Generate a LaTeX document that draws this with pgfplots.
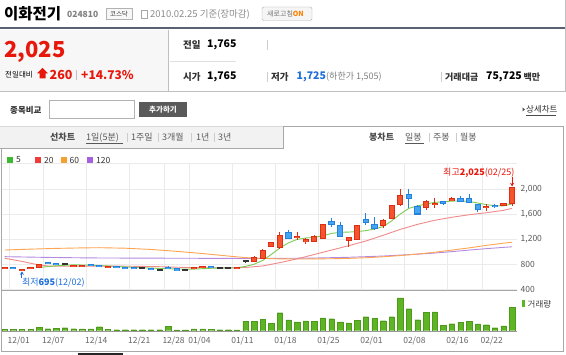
\documentclass[border=0pt]{standalone}
\usepackage{fontspec}
\setmainfont{Noto Sans CJK KR}
\usepackage{pgfplots}
\pgfplotsset{compat=1.18}
\usepackage{pgfplotstable}
\usetikzlibrary{arrows.meta}

\definecolor{upfill}{HTML}{F4532C}
\definecolor{upedge}{HTML}{DC2E14}
\definecolor{dnfill}{HTML}{45A5F2}
\definecolor{dnedge}{HTML}{2582DC}
\definecolor{ma5}{HTML}{7CCB55}
\definecolor{ma20}{HTML}{F08A8A}
\definecolor{ma60}{HTML}{FFA552}
\definecolor{ma120}{HTML}{B48AE2}
\definecolor{lg5}{HTML}{3DB830}
\definecolor{lg20}{HTML}{EE3B3B}
\definecolor{lg60}{HTML}{F5A030}
\definecolor{lg120}{HTML}{A262DE}
\definecolor{volg}{HTML}{5DB523}
\definecolor{gridc}{HTML}{EBEBEB}
\definecolor{kred}{HTML}{E8170C}
\definecolor{kblue}{HTML}{1E6EDC}
\definecolor{frame}{HTML}{A8A8A8}
\definecolor{hdrline}{HTML}{5B6170}
\definecolor{btngrey}{HTML}{5A5A5A}

\newcommand\fs[1]{\fontsize{#1}{#1}\selectfont}

% candles: i open high low close
\pgfplotstableread{
i o h l c
0 735 750 728 748
2 700 725 695 722
3 735 752 728 748
4 745 795 740 790
8 768 792 762 786
9 762 786 755 780
12 752 770 748 766
22 735 752 728 748
23 740 762 735 756
27 735 750 728 748
29 845 935 835 910
30 890 1040 880 1015
31 1080 1160 1070 1150
32 1065 1320 1045 1260
34 1222 1320 1190 1245
35 1160 1225 1120 1192
36 1165 1260 1160 1245
37 1215 1440 1210 1425
40 1185 1240 1075 1220
41 1190 1420 1185 1410
44 1410 1520 1380 1500
45 1530 1745 1520 1740
46 1745 2000 1735 1890
49 1710 1820 1670 1805
50 1745 1860 1690 1775
52 1810 1870 1800 1850
56 1700 1760 1650 1722
58 1742 1775 1730 1765
59 1765 2025 1725 2025
}\upT
\pgfplotstableread{
i o h l c
1 750 755 725 730
5 826 832 800 808
6 812 818 795 800
10 790 796 770 775
11 778 782 760 764
13 762 766 745 746
14 752 756 735 740
15 746 750 730 734
17 736 742 710 714
19 752 776 730 740
20 726 732 700 705
24 762 766 742 746
33 1310 1345 1205 1215
38 1480 1540 1400 1440
39 1410 1470 1230 1240
42 1520 1610 1425 1470
43 1425 1560 1340 1375
47 1915 2000 1700 1850
48 1715 1750 1580 1600
51 1805 1815 1740 1770
53 1840 1880 1790 1800
54 1840 1925 1775 1785
55 1755 1760 1630 1670
57 1742 1760 1700 1720
}\dnT
\pgfplotstableread{
i h l c
7 812 795 810
16 745 735 740
18 715 702 710
21 710 700 705
25 745 735 740
26 745 735 740
28 855 830 852
}\flT
\pgfplotstableread{
i v
0 1.3
1 1.3
2 1.3
3 1.3
4 3.3
5 2
6 2.3
7 3
8 2
9 1.7
10 1.7
11 4
12 1.3
13 1
14 1
15 1
16 1
17 1
18 1
19 4.3
20 0.8
21 0.8
22 1.7
23 1.7
24 1.3
25 1
26 1
27 0.8
28 9.3
29 9.3
30 11.3
31 7.3
32 18
33 10.7
34 8.7
35 9.7
36 9.3
37 12.7
38 12
39 8.7
40 7.7
41 10.3
42 14
43 12.3
44 10
45 14
46 32.7
47 22
48 11
49 18.3
50 18.7
51 5.3
52 7
53 8.3
54 9.3
55 6.7
56 6
57 3
58 4.7
59 23.3
}\volT
\pgfplotstableread{
i v
4 748
6 775
8 790
10 785
12 772
14 757
16 745
18 732
20 724
22 722
24 735
26 742
27 745
28 765
29 800
30 860
31 955
32 1060
33 1140
34 1195
35 1218
36 1225
37 1255
38 1290
39 1308
40 1312
41 1320
42 1335
43 1360
44 1400
45 1490
46 1600
47 1690
48 1730
49 1760
50 1785
51 1795
52 1805
53 1810
54 1800
55 1775
56 1750
57 1732
58 1730
59 1760
}\maA
\pgfplotstableread{
i v
0 895
1 870
2 845
3 815
4 790
5 772
6 768
8 768
10 770
12 770
14 768
16 765
18 760
20 752
22 745
24 742
26 740
28 748
30 772
32 825
34 885
36 955
38 1025
40 1095
42 1170
44 1260
46 1355
48 1435
50 1500
52 1548
54 1588
56 1620
58 1658
59 1690
}\maB
\pgfplotstableread{
i v
0 1026
3 1040
6 1052
9 1060
11 1063
14 1055
17 1035
20 1005
23 970
26 930
28 905
30 892
32 885
34 883
36 884
38 887
40 893
42 903
44 918
46 938
48 962
50 990
52 1025
54 1060
56 1100
58 1135
59 1150
}\maC
\pgfplotstableread{
i v
0 920
5 908
10 900
15 897
20 895
25 893
28 892
32 893
36 898
40 910
44 930
48 960
50 978
52 1000
54 1025
56 1048
58 1068
59 1078
}\maD

\newcommand{\drawcandles}[3]{%
\addplot[draw=none, forget plot, error bars/.cd, y dir=both, y explicit, error mark=none,
  error bar style={draw=#2, line width=1pt}]
  table[x=i, y expr={(\thisrow{h}+\thisrow{l})/2}, y error expr={(\thisrow{h}-\thisrow{l})/2}] {#1};
\addplot[draw=none, forget plot, error bars/.cd, y dir=both, y explicit, error mark=none,
  error bar style={draw=#2, line width=6.2pt}]
  table[x=i, y expr={(\thisrow{o}+\thisrow{c})/2}, y error expr={abs(\thisrow{c}-\thisrow{o})/2+8}] {#1};
\addplot[draw=none, forget plot, error bars/.cd, y dir=both, y explicit, error mark=none,
  error bar style={draw=#3, line width=4.2pt}]
  table[x=i, y expr={(\thisrow{o}+\thisrow{c})/2}, y error expr={max(abs(\thisrow{c}-\thisrow{o})/2-8,0.5)}] {#1};
}

\begin{document}
\begin{tikzpicture}[x=1pt,y=1pt]
\useasboundingbox (0pt,0pt) rectangle (566pt,-355pt);
\fill[white] (0,0) rectangle (566,-355);

% ---------- header ----------
\node[anchor=west, inner sep=0] at (4,-14) {\fs{15.5}\bfseries 이화전기};
\node[anchor=west, inner sep=0, text=black!50] at (67,-14.5) {\fs{8.5}\bfseries 024810};
\draw[draw=black!30, fill=black!3] (106,-8) rectangle (132,-19.5);
\node[inner sep=0, text=black!75] at (119,-13.8) {\fs{6.5}코스닥};
\draw[black!35, line width=0.8pt] (141,-10.5) rectangle (147.5,-18);
\node[anchor=west, inner sep=0, text=black!45] at (150,-14.5) {\fs{9.5}2010.02.25 기준(장마감)};
\draw[draw=black!30, fill=black!4, rounded corners=1.5pt] (262,-7) rectangle (312,-20.5);
\node[anchor=west, inner sep=0] at (267,-13.8) {\fs{7}\textcolor{black!55}{새로고침}\textcolor{orange}{\bfseries ON}};
\fill[hdrline] (0,-27.5) rectangle (566,-29.5);
\draw[black!25] (565,0) -- (565,-92);

% price block
\fill[black!3] (0,-30) rectangle (168,-91);
\draw[black!25] (168.5,-30) -- (168.5,-91.5);
\draw[black!25] (0,-91.5) -- (566,-91.5);
\node[anchor=west, inner sep=0, text=kred] at (4,-52) {\fs{22}\bfseries 2,025};
\node[anchor=west, inner sep=0] at (5,-75) {\fs{7.5}전일대비};
\fill[kred] (37,-73.5) -- (42.5,-68) -- (48,-73.5) -- (45.5,-73.5) -- (45.5,-78.5) -- (39.5,-78.5) -- (39.5,-73.5) -- cycle;
\node[anchor=west, inner sep=0, text=kred] at (49.5,-75) {\fs{12.5}\bfseries 260};
\draw[black!25] (76.5,-70) -- (76.5,-80);
\node[anchor=west, inner sep=0, text=kred] at (81,-75) {\fs{12}\bfseries +14.73\%};

\node[anchor=west, inner sep=0, text=black!80] at (183,-45) {\fs{9.5}\bfseries 전일};
\node[anchor=west, inner sep=0] at (207,-45) {\fs{10.5}\bfseries 1,765};
\draw[black!12] (170,-61) -- (236,-61);
\draw[black!20] (267,-40) -- (267,-50);
\node[anchor=west, inner sep=0, text=black!80] at (183,-77) {\fs{9.5}\bfseries 시가};
\node[anchor=west, inner sep=0] at (207,-77) {\fs{10.5}\bfseries 1,765};
\draw[black!20] (267,-72) -- (267,-82);
\node[anchor=west, inner sep=0, text=black!80] at (271,-77) {\fs{9.5}\bfseries 저가};
\node[anchor=west, inner sep=0, text=kblue] at (296.5,-77) {\fs{10.5}\bfseries 1,725};
\node[anchor=west, inner sep=0, text=black!50] at (326,-77) {\fs{9}(하한가 1,505)};
\draw[black!20] (441,-72) -- (441,-82);
\node[anchor=west, inner sep=0, text=black!80] at (445,-77) {\fs{9}\bfseries 거래대금};
\node[anchor=west, inner sep=0] at (486,-77) {\fs{10.5}\bfseries 75,725};
\node[anchor=west, inner sep=0, text=black!80] at (523.5,-77) {\fs{9}\bfseries 백만};

% compare row
\node[anchor=west, inner sep=0, text=black!80] at (10,-110) {\fs{8.5}\bfseries 종목비교};
\draw[black!30, fill=white] (49,-100.5) rectangle (134.5,-118);
\fill[btngrey] (139,-102) rectangle (187,-117.5);
\node[inner sep=0, text=white] at (163,-109.8) {\fs{7.5}\bfseries 추가하기};
\fill[black!70] (522.5,-107.5) -- (525,-109.5) -- (522.5,-111.5) -- cycle;
\node[anchor=west, inner sep=0, text=black!80] at (526,-109.8) {\fs{8.5}상세차트};
\draw[black!70, line width=0.4pt] (526,-115) -- (556,-115);

% tab row
\fill[black!5] (0,-127) rectangle (283,-148);
\draw[black!15] (0,-126.5) -- (283,-126.5);
\draw[frame] (0,-148) -- (283,-148) -- (283,-126.5) -- (563.5,-126.5) -- (563.5,-351);
\draw[frame] (1,-148) -- (1,-351) -- (563.5,-351);
\node[anchor=west, inner sep=0, text=black!70] at (50,-137.5) {\fs{9}\bfseries 선차트};
\node[anchor=west, inner sep=0, text=black!65] at (86,-137.5) {\fs{9}1일(5분)};
\draw[black!65, line width=0.4pt] (86,-143.5) -- (123,-143.5);
\node[anchor=west, inner sep=0, text=black!65] at (131,-137.5) {\fs{9}1주일};
\node[anchor=west, inner sep=0, text=black!65] at (162,-137.5) {\fs{9}3개월};
\node[anchor=west, inner sep=0, text=black!65] at (196,-137.5) {\fs{9}1년};
\node[anchor=west, inner sep=0, text=black!65] at (218,-137.5) {\fs{9}3년};
\foreach \sx in {127,158.5,191.5,214} {\draw[black!20] (\sx,-133) -- (\sx,-142);}
\node[anchor=west, inner sep=0, text=black!70] at (369,-137.5) {\fs{9}\bfseries 봉차트};
\node[anchor=west, inner sep=0, text=black!65] at (405,-137.5) {\fs{9}일봉};
\draw[black!65, line width=0.4pt] (405,-143.5) -- (424,-143.5);
\node[anchor=west, inner sep=0, text=black!65] at (433,-137.5) {\fs{9}주봉};
\node[anchor=west, inner sep=0, text=black!65] at (460,-137.5) {\fs{9}월봉};
\foreach \sx in {429,456} {\draw[black!20] (\sx,-133) -- (\sx,-142);}

% MA legend
\fill[lg5] (7,-157) rectangle (13,-163);
\node[anchor=west, inner sep=0, text=black!80] at (16,-160) {\fs{8.5}5};
\fill[lg20] (35,-157) rectangle (41,-163);
\node[anchor=west, inner sep=0, text=black!80] at (44,-160) {\fs{8.5}20};
\fill[lg60] (61,-157) rectangle (67,-163);
\node[anchor=west, inner sep=0, text=black!80] at (69.5,-160) {\fs{8.5}60};
\fill[lg120] (87,-157) rectangle (93,-163);
\node[anchor=west, inner sep=0, text=black!80] at (96,-160) {\fs{8.5}120};

% ---------- price panel ----------
\begin{axis}[at={(2pt,-289.3pt)}, anchor=south west, scale only axis,
  width=515pt, height=125.5pt,
  xmin=-0.314, xmax=59.57, ymin=400, ymax=2400,
  clip=false,
  axis line style={draw=none}, tick style={draw=none}, major tick length=0pt,
  xtick={0.5,4.5,9.5,14.5,18.5,21.5,26.5,31.5,36.5,41.5,46.5,51.5,55.5},
  xticklabels={},
  ytick={400,800,1200,1600,2000},
  extra y ticks={2400}, extra y tick labels={},
  xmajorgrids, ymajorgrids,
  grid style={draw=gridc, line width=0.6pt},
  yticklabel pos=right,
  yticklabel style={anchor=west, inner sep=0pt, xshift=3.5pt, text=black!65, font=\fs{8.5}},
  /pgf/number format/.cd, 1000 sep={,}, assume math mode=true]

\addplot[ma120, line width=0.9pt] table[x=i,y=v] {\maD};
\addplot[ma60, line width=0.9pt] table[x=i,y=v] {\maC};
\addplot[ma20, line width=0.9pt] table[x=i,y=v] {\maB};
\addplot[ma5, line width=0.9pt] table[x=i,y=v] {\maA};

\drawcandles{\upT}{upedge}{upfill}
\drawcandles{\dnT}{dnedge}{dnfill}
\addplot[draw=none, forget plot, error bars/.cd, y dir=both, y explicit, error mark=none,
  error bar style={draw=black!80, line width=1pt}]
  table[x=i, y expr={(\thisrow{h}+\thisrow{l})/2}, y error expr={(\thisrow{h}-\thisrow{l})/2}] {\flT};
\addplot[draw=none, forget plot, error bars/.cd, y dir=both, y explicit, error mark=none,
  error bar style={draw=black!80, line width=6pt}]
  table[x=i, y=c, y error expr={12}] {\flT};

\node[anchor=east, inner sep=0, text=kred] at (axis cs:59.3,2253) {\fs{9}최고\textbf{2,025}(02/25)};
\draw[kred, line width=0.8pt, -{Stealth[length=3.5pt,width=4pt]}] (axis cs:59,2185) -- (axis cs:59,2040);
\node[anchor=west, inner sep=0, text=kblue] at (axis cs:2,500) {\fs{9}최저\textbf{695}(12/02)};
\draw[kblue, line width=0.8pt, -{Stealth[length=3.5pt,width=4pt]}] (axis cs:2,575) -- (axis cs:2,685);
\end{axis}
\draw[black!35] (2,-289.8) -- (517,-289.8);

% ---------- volume panel ----------
\begin{axis}[at={(2pt,-330.7pt)}, anchor=south west, scale only axis,
  width=515pt, height=39.7pt,
  xmin=-0.314, xmax=59.57, ymin=0, ymax=39.7,
  axis line style={draw=none}, tick style={draw=none}, major tick length=0pt,
  ytick=\empty,
  xtick={0.5,4.5,9.5,14.5,18.5,21.5,26.5,31.5,36.5,41.5,46.5,51.5,55.5},
  xticklabels={12/01,12/07,12/14,12/21,12/28,01/04,01/11,01/18,01/25,02/01,02/08,02/16,02/22},
  xticklabel style={anchor=north west, inner sep=0pt, xshift=-1.5pt, yshift=-6pt, text=black!60, font=\fs{8.5}}]
\addplot[ybar, bar width=5.4pt, fill=volg, draw=volg!85!black, line width=0.3pt] table[x=i,y=v] {\volT};
\end{axis}
\draw[black!40] (2,-331) -- (517,-331);
\fill[volg] (522,-300) rectangle (525,-307.5);
\node[anchor=west, inner sep=0, text=black!75] at (527.5,-304) {\fs{8.5}거래량};

\fill[black!85] (78,-353) rectangle (123,-355);
\end{tikzpicture}
\end{document}
